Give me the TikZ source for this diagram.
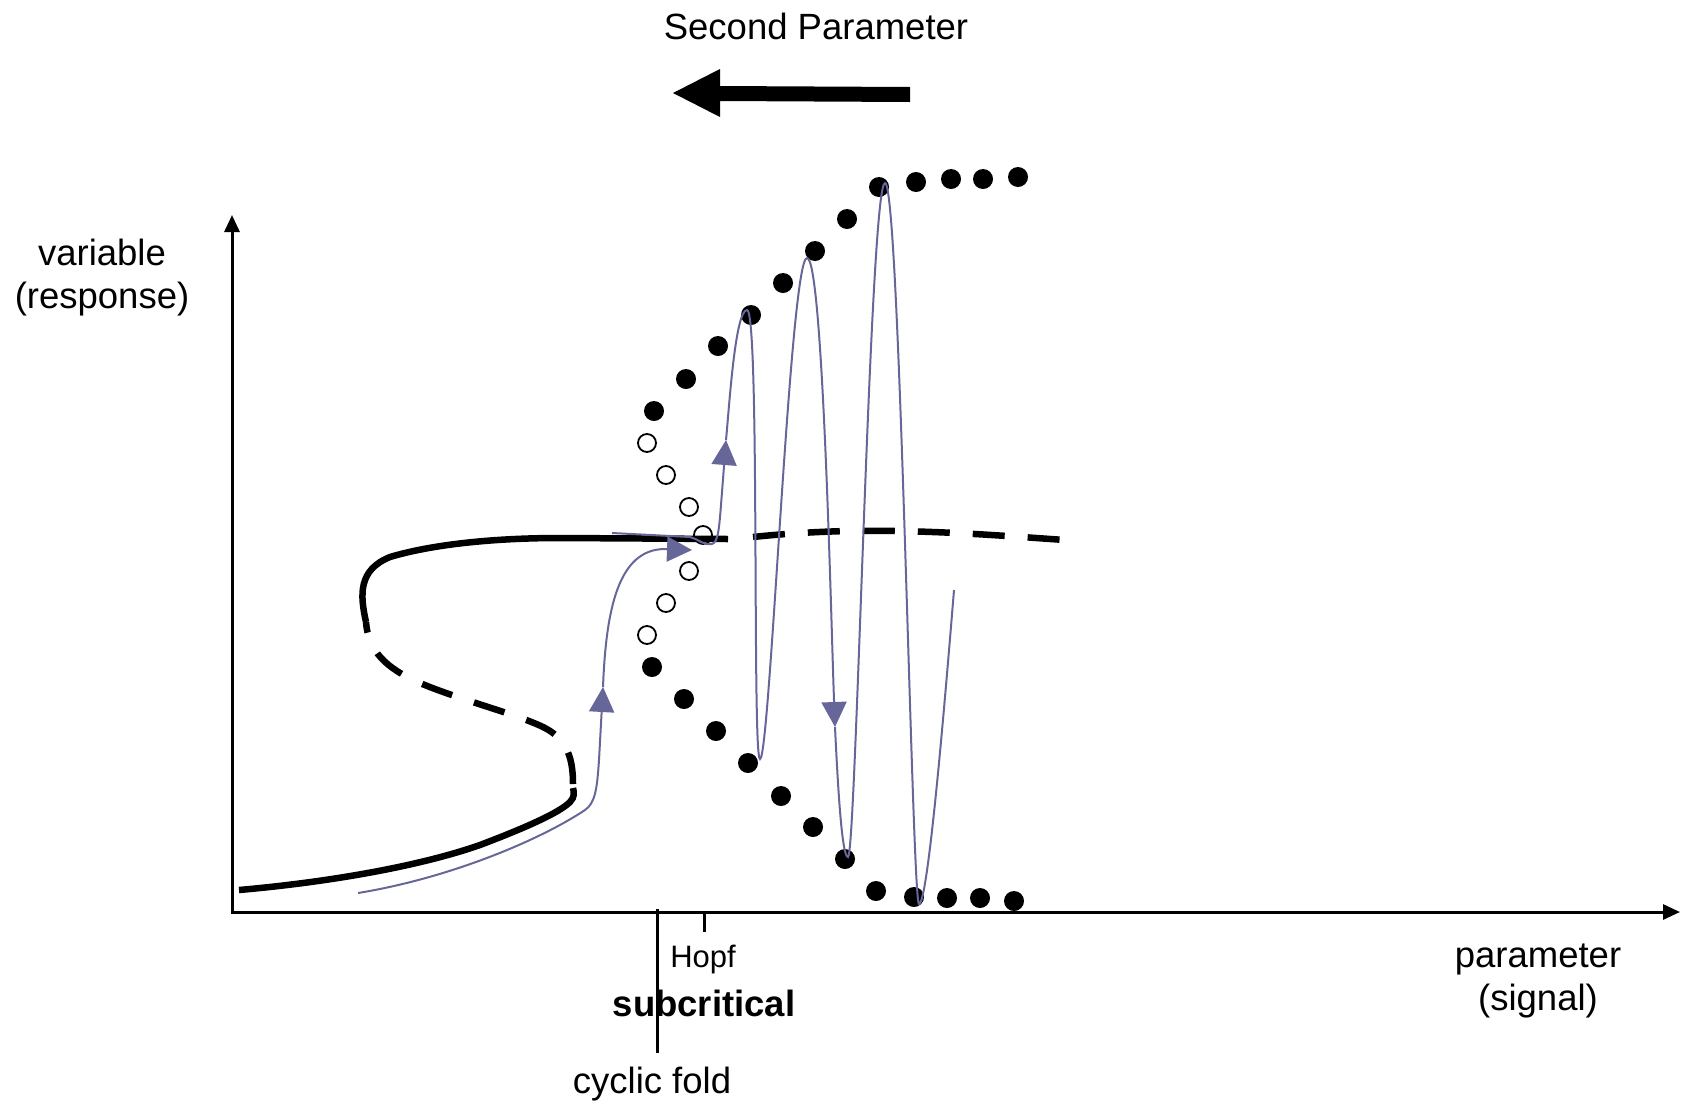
\documentclass[tikz,border=0pt]{standalone}
\usepackage{fontspec}
\setmainfont{Liberation Sans}
\usetikzlibrary{arrows.meta}
\definecolor{traj}{RGB}{102,102,153}
\begin{document}
\begin{tikzpicture}[x=1pt,y=-1pt,
  fdot/.style={circle,fill=black,minimum size=20pt,inner sep=0pt},
  odot/.style={circle,draw=black,line width=1.8pt,minimum size=18pt,inner sep=0pt},
  branch/.style={line width=6.5pt,black},
  unstable/.style={branch,dash pattern=on 32pt off 23pt},
  trajline/.style={draw=traj,line width=2pt},
  trajtip/.style={-{Triangle[length=25pt,width=25pt]}},
  axisline/.style={line width=3pt,{Triangle[length=17pt,width=15pt]}-{Triangle[length=17pt,width=15pt]}},
  tickline/.style={line width=3pt},
  lbl/.style={font=\fontsize{36.5}{43}\selectfont,align=center,inner sep=0pt,anchor=base},
]
\useasboundingbox (0,0) rectangle (1686,1109);

% axes
\coordinate (O) at (232,912);
\coordinate (ytop) at (232,215);
\coordinate (xend) at (1680,912);
\draw[axisline] (ytop) -- (O) -- (xend);

% bifurcation branch (S-curve)
\draw[branch] (239,890) .. controls (330,882) and (420,866) .. (480,845) .. controls (530,826) and (560,812) .. (570,802) .. controls (575,797) and (574,792) .. (573,788);
\draw[unstable] (573,784) .. controls (573,760) and (568,740) .. (545,728) .. controls (520,715) and (460,700) .. (420,683) .. controls (385,668) and (368,650) .. (366,622);
\draw[branch] (366,622) .. controls (360,595) and (358,570) .. (390,557) .. controls (430,545) and (490,538) .. (560,538) -- (728,539);
\draw[unstable] (753,537) .. controls (800,532) and (850,530) .. (895,531) .. controls (960,532) and (1020,537) .. (1065,540);

% limit cycle amplitudes
\foreach \p [count=\i] in {(654,411),(686,379),(718,346),(751,315),(783,283),(815,251),(847,219),(879,187),(916,182),(951,179),(983,179),(1018,177)}
  \node[fdot] (u\i) at \p {};
\foreach \p [count=\i] in {(647,443),(666,475),(689,507),(703,535),(689,571),(666,603),(647,635)}
  \node[odot] (o\i) at \p {};
\foreach \p [count=\i] in {(652,667),(684,699),(716,731),(748,763),(781,796),(813,827),(845,859),(876,891),(914,897),(947,898),(980,898),(1014,901)}
  \node[fdot] (l\i) at \p {};

% trajectories
\draw[trajline,trajtip] (358,893) .. controls (450,878) and (540,840) .. (585,810) .. controls (595,803) and (597,790) .. (599,760) -- (603,687);
\draw[trajline,trajtip] (603,687) .. controls (606,610) and (618,549) .. (665,549) -- (692,550);
\draw[trajline,trajtip] (612,533) -- (690,537) .. controls (700,540) and (705,546) .. (712,544) .. controls (718,542) and (719,530) .. (721,505) -- (726,440);
\draw[trajline,trajtip] (726,440) .. controls (729,410) and (735,310) .. (747,310) .. controls (760,310) and (752,759) .. (760,759) .. controls (770,759) and (790,258) .. (807,258) .. controls (823,258) and (831,620) .. (835,727);
\draw[trajline] (835,727) .. controls (838,790) and (842,857) .. (848,857) .. controls (856,857) and (870,183) .. (885,183) .. controls (900,183) and (912,904) .. (919,904) .. controls (928,904) and (945,700) .. (954,590);

% second parameter arrow
\node[lbl] (second) at (816,39) {Second Parameter};
\fill (910,87) -- (720,86) -- (720,69) -- (673,93) -- (720,117) -- (720,101) -- (910,102) -- cycle;

% axis labels
\node[lbl] (ylabel) at (102,308) {variable\\(response)};
\node[lbl] (xlabel) at (1538,1010) {parameter\\(signal)};

% bifurcation labels
\node[lbl,font=\fontsize{31}{36}\selectfont] (hopf) at (703,967) {Hopf};
\node[lbl,font=\fontsize{36.5}{43}\selectfont\bfseries] (subcrit) at (704,1016) {subcritical};
\node[lbl] (cfold) at (652,1093) {cyclic fold};
\coordinate (hopftop) at (704,912);
\coordinate (hopfbot) at (704,932);
\coordinate (cftop) at (657,909);
\coordinate (cfbot) at (657,1053);
\draw[tickline] (hopftop) -- (hopfbot);
\draw[tickline] (cftop) -- (cfbot);
\end{tikzpicture}
\end{document}
